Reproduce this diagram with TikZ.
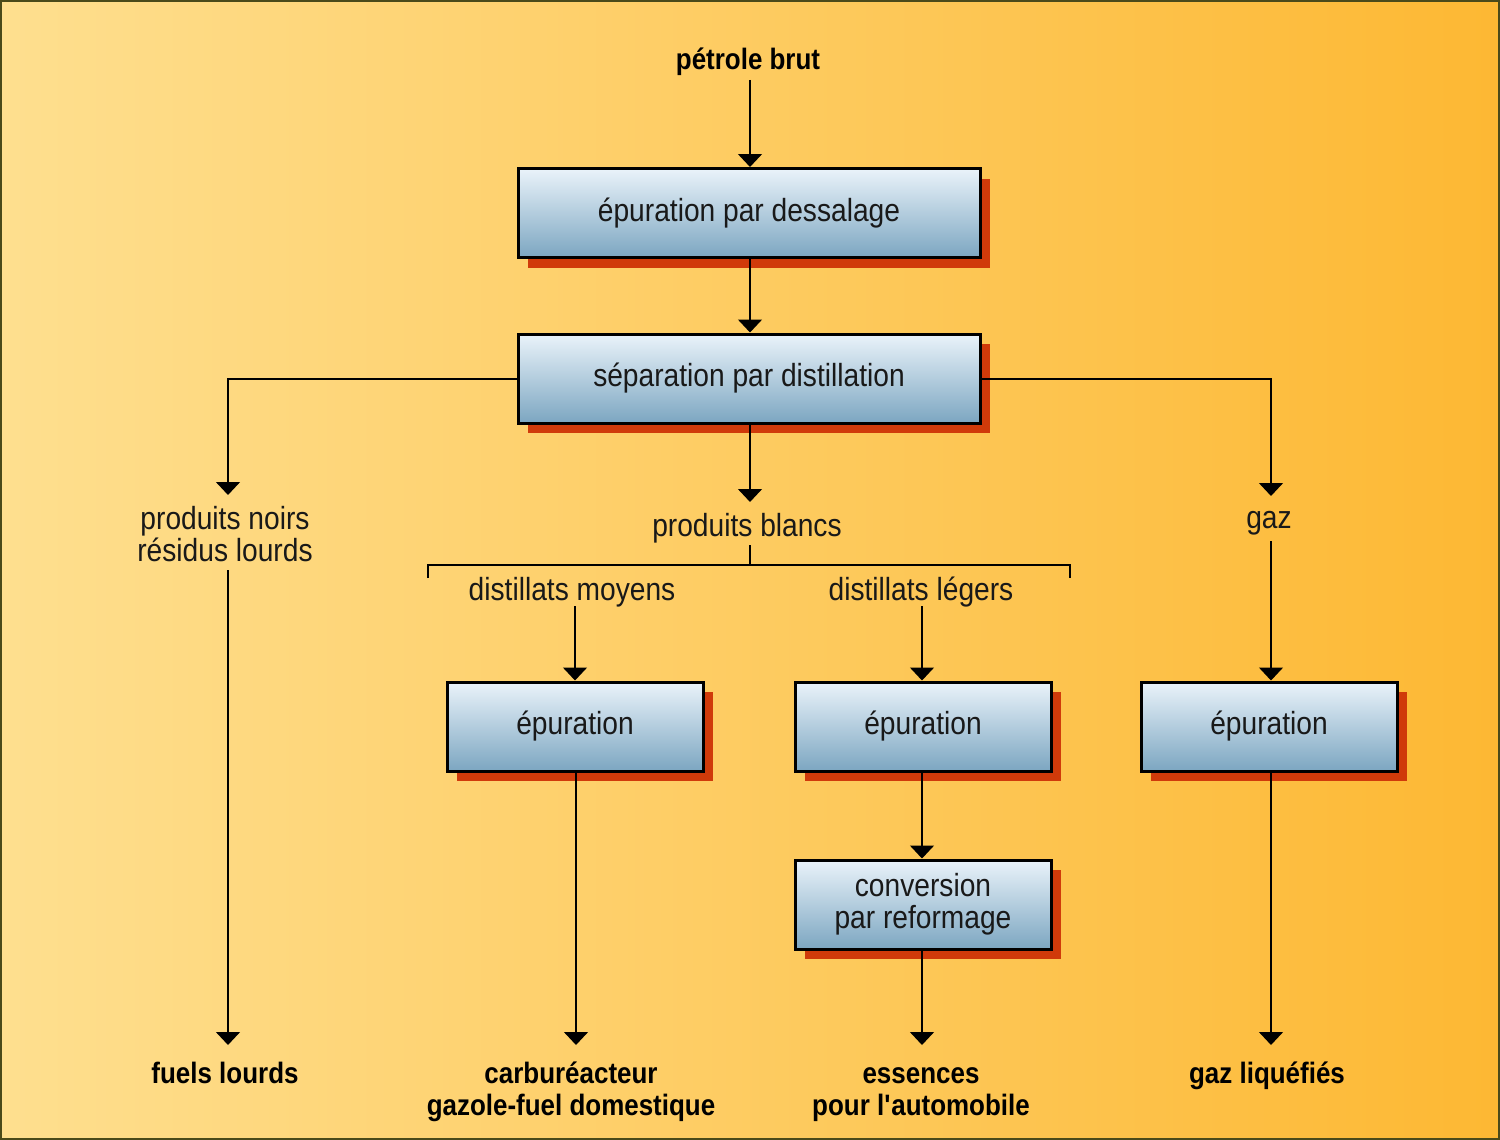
\documentclass[tikz,border=0pt]{standalone}
\usepackage{fontspec}
\setmainfont[FakeStretch=0.88]{Liberation Sans}
\usetikzlibrary{arrows.meta,shadows}
\definecolor{bgA}{HTML}{FEDF8F}
\definecolor{bgB}{HTML}{FDB833}
\definecolor{boxTop}{HTML}{EAF3FA}
\definecolor{boxBot}{HTML}{7CA6C1}
\definecolor{shad}{HTML}{D03A0A}
\definecolor{frame}{HTML}{4A4A1A}
\begin{document}
\begin{tikzpicture}[x=1pt,y=-1pt,
  proc/.style={draw=black,line width=3pt,top color=boxTop,bottom color=boxBot,
    minimum height=89pt,align=center,inner sep=0pt,text=black!90,
    font=\fontsize{32}{32}\selectfont,
    drop shadow={shadow xshift=10pt,shadow yshift=-10pt,fill=shad,opacity=1}},
  lbl/.style={align=center,inner sep=0pt,font=\fontsize{32}{32}\selectfont,text=black!90},
  blbl/.style={align=center,inner sep=0pt,font=\fontsize{29.5}{32}\selectfont\bfseries,text=black},
  conn/.style={line width=1.5pt,draw=black},
  arr/.style={conn,-{Triangle[width=24pt,length=13pt]}}
]
\useasboundingbox (0,0) rectangle (1500,1140);
\shade[left color=bgA,right color=bgB] (0,0) rectangle (1500,1140);
\draw[frame,line width=2pt] (1,1) rectangle (1499,1139);

% nodes
\node[blbl] (brut) at (748,62) {pétrole brut};
\node[proc,minimum width=462pt] (dess) at (749,213) {épuration par dessalage};
\node[proc,minimum width=462pt] (dist) at (749,378.5) {séparation par distillation};
\node[lbl] (noirs) at (225,534) {produits noirs\\résidus lourds};
\node[lbl] (blancs) at (747,528) {produits blancs};
\node[lbl] (gaz) at (1269,523) {gaz};
\node[lbl] (moy) at (572,592) {distillats moyens};
\node[lbl] (leg) at (921,592) {distillats légers};
\node[proc,minimum width=256pt] (ep1) at (575,726.5) {épuration};
\node[proc,minimum width=256pt] (ep2) at (923,726.5) {épuration};
\node[proc,minimum width=256pt] (ep3) at (1269,726.5) {épuration};
\node[proc,minimum width=256pt] (conv) at (923,904.5) {conversion\\par reformage};
\node[blbl] (fuels) at (225,1073) {fuels lourds};
\node[blbl] (carb) at (571,1092) {carburéacteur\\gazole-fuel domestique};
\node[blbl] (ess) at (921,1095) {essences\\pour l\textquotesingle automobile};
\node[blbl] (gazl) at (1267,1076) {gaz liquéfiés};

\coordinate (bl) at (428,565);
\coordinate (br) at (1070,565);

% connectors
\draw[arr] (750,80) -- (dess.north -| 750,0);
\draw[arr] (dess.south -| 750,0) -- (dist.north -| 750,0);
\draw[arr] (dist.west |- 0,379) -| (228,495);
\draw[arr] (dist.east |- 0,379) -| (1271,496);
\draw[arr] (dist.south -| 750,0) -- (750,502);
\draw[conn] (750,545) -- (750,565);
\draw[conn] (428,578) -- (bl) -- (br) -- (1070,578);
\draw[arr] (575,606) -- (ep1.north -| 575,0);
\draw[arr] (922,606) -- (ep2.north -| 922,0);
\draw[arr] (1271,541) -- (ep3.north -| 1271,0);
\draw[arr] (228,570) -- (228,1045);
\draw[arr] (ep1.south -| 576,0) -- (576,1045);
\draw[arr] (ep2.south -| 922,0) -- (conv.north -| 922,0);
\draw[arr] (conv.south -| 922,0) -- (922,1045);
\draw[arr] (ep3.south -| 1271,0) -- (1271,1045);
\end{tikzpicture}
\end{document}
